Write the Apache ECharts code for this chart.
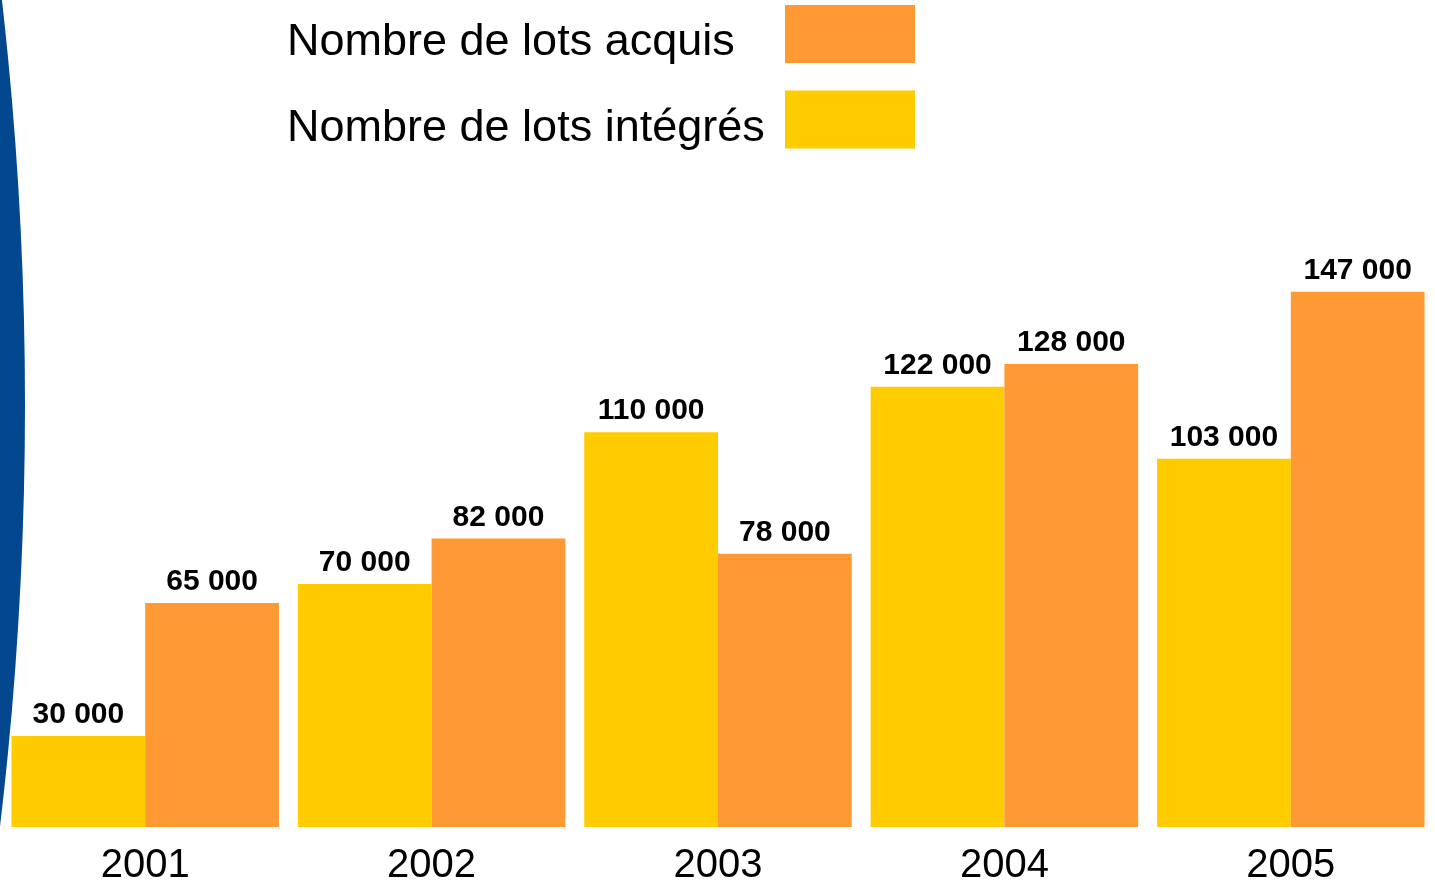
<!DOCTYPE html>
<html>
<head>
<meta charset="utf-8">
<script src="https://cdn.jsdelivr.net/npm/echarts@6/dist/echarts.min.js"></script>
<style>
  html, body { margin: 0; padding: 0; background: #fff; }
  #chart { width: 1435px; height: 881px; }
</style>
</head>
<body>
<div id="chart"></div>
<script>
const years = ['2001', '2002', '2003', '2004', '2005']
const integres = [30000, 70000, 110000, 122000, 103000]
const acquis = [65000, 82000, 78000, 128000, 147000]
const legendNames = ['Nombre de lots acquis', 'Nombre de lots intégrés']

const fmt = (v) => String(v).replace(/\B(?=(\d{3})+(?!\d))/g, ' ')

const chart = echarts.init(document.getElementById('chart'), null, { renderer: 'canvas' })

const barLabel = {
  show: true,
  position: 'top',
  distance: 6,
  color: '#000',
  fontFamily: 'Liberation Sans',
  fontWeight: 'bold',
  fontSize: 30,
  formatter: (p) => fmt(p.value),
}

chart.setOption({
  backgroundColor: '#fff',
  animation: false,
  // blue arc on the left edge
  graphic: [{
    type: 'circle',
    z: -10,
    shape: { cx: -3541, cy: 405, r: 3566 },
    style: { fill: '#03488F' },
  }],
  legend: {
    data: legendNames,
    orient: 'vertical',
    align: 'right',
    left: 287,
    top: 5,
    padding: 0,
    itemWidth: 130,
    itemHeight: 58,
    itemGap: 25,
    icon: 'rect',
    selectedMode: false,
    formatter: (name) => '{t|' + name + '}',
    textStyle: {
      rich: {
        t: {
          width: 493,
          align: 'left',
          color: '#000',
          fontFamily: 'Liberation Sans',
          fontSize: 45,
          padding: [18, 0, 0, 0],
        },
      },
    },
  },
  grid: { left: 2, right: 1, top: 250, bottom: 54, outerBoundsMode: 'none' },
  xAxis: {
    type: 'category',
    data: years,
    axisLine: { show: false },
    axisTick: { show: false },
    axisLabel: { color: '#000', fontFamily: 'Liberation Sans', fontSize: 40, margin: 19 },
  },
  yAxis: {
    type: 'value',
    min: 6000,
    max: 158000,
    show: false,
    splitLine: { show: false },
  },
  series: [
    {
      name: 'Nombre de lots intégrés',
      type: 'bar',
      data: integres,
      barGap: 0,
      barCategoryGap: '6.6%',
      itemStyle: { color: '#FFCC00' },
      label: barLabel,
    },
    {
      name: 'Nombre de lots acquis',
      type: 'bar',
      data: acquis,
      barGap: 0,
      barCategoryGap: '6.6%',
      itemStyle: { color: '#FF9933' },
      label: barLabel,
    },
  ],
})
</script>
</body>
</html>
